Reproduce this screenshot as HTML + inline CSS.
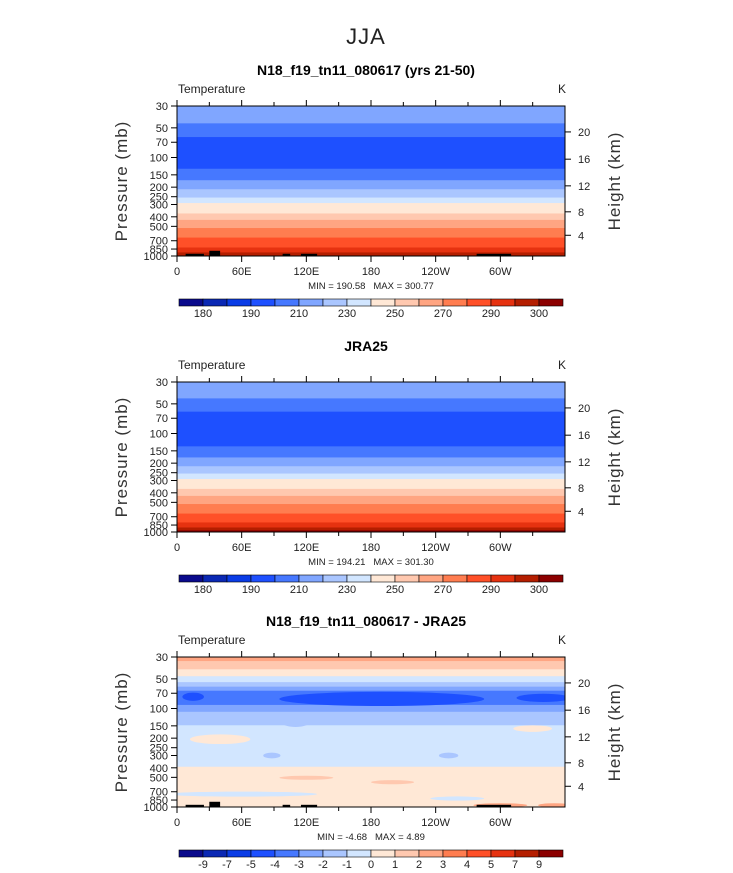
<!DOCTYPE html>
<html><head><meta charset="utf-8"><style>
html,body{margin:0;padding:0;background:#fff;}
svg{display:block;font-family:"Liberation Sans",sans-serif;}
</style></head><body>
<svg id="fig" width="733" height="873" viewBox="0 0 733 873" xmlns="http://www.w3.org/2000/svg">
<text x="366" y="44" text-anchor="middle" font-size="22" font-weight="300" fill="#222" letter-spacing="1">JJA</text>
</svg>
<script>
const palette=['#0a0a8c','#0a28b4','#0a3ce6','#1e50ff','#4678ff','#80a6ff','#aac6ff','#d2e6ff','#ffe8d6','#ffc8af','#ffa582','#ff7d50','#ff5028','#e63210','#b41e00','#8c0000'];
const tempLevels=[180,185,190,200,210,220,230,240,250,260,270,280,290,295,300];
const tempLabels=['180','','190','','210','','230','','250','','270','','290','','300'];
const diffLevels=[-9,-7,-5,-4,-3,-2,-1,0,1,2,3,4,5,7,9];
const diffLabels=['-9','-7','-5','-4','-3','-2','-1','0','1','2','3','4','5','7','9'];
const pressureTicks=[30,50,70,100,150,200,250,300,400,500,700,850,1000];
const heightKm=[4,8,12,16,20];
const heightP=[616,356,194,104,55];
const lonTicks=[0,60,120,180,240,300];
const lonLabels=['0','60E','120E','180','120W','60W'];
// panel 1 model
const edges1=[30,45,62,130,170,210,255,290,370,430,520,650,820,920,1000];
const values1=[215,205,195,205,215,225,235,245,255,265,275,285,292,297];
// panel 2 JRA25
const edges2=[30,44,60,135,175,215,255,290,365,430,520,650,800,900,960,1000];
const values2=[215,205,195,205,215,225,235,245,255,265,275,285,292,297,302];
// panel 3 difference
const edges3=[30,33,40,47,54,60,66,72,92,108,125,148,390,1000];
const values3=[2.5,1.5,0.5,-0.5,-1.5,-2.5,-3.5,-3.5,-2.5,-1.5,-1.5,-0.5,0.5];
// blobs: lon, p, dlon, pfactor, value
const blobs3=[[190,80,95,1.18,-4.5],[15,76,10,1.1,-4.5],[340,78,25,1.1,-4.5],[110,140,12,1.1,-1.5],[40,205,28,1.12,0.5],[330,160,18,1.08,0.5],[88,300,8,1.07,-1.5],[252,300,9,1.07,-1.5],[60,740,70,1.06,-0.5],[260,820,25,1.05,-0.5],[200,560,20,1.05,1.5],[120,505,25,1.03,1.5],[300,960,25,1.04,2.5],[350,960,15,1.04,2.5]];
const topo=[[8,25,950],[30,40,885],[98,105,950],[115,130,950],[278,310,950]];
const panels=[
 {y0:106,title:'N18_f19_tn11_080617 (yrs 21-50)',edges:edges1,values:values1,levels:tempLevels,labels:tempLabels,min:'190.58',max:'300.77',topo:true,blobs:[]},
 {y0:382,title:'JRA25',edges:edges2,values:values2,levels:tempLevels,labels:tempLabels,min:'194.21',max:'301.30',topo:false,blobs:[]},
 {y0:657,title:'N18_f19_tn11_080617 - JRA25',edges:edges3,values:values3,levels:diffLevels,labels:diffLabels,min:'-4.68',max:'4.89',topo:true,blobs:blobs3}
];
const NS='http://www.w3.org/2000/svg';
const svg=document.getElementById('fig');
function mk(tag,attrs,parent,txt){const e=document.createElementNS(NS,tag);for(const k in attrs)e.setAttribute(k,attrs[k]);if(txt!==undefined)e.textContent=txt;(parent||svg).appendChild(e);return e;}
function colorFor(v,levels){let i=0;while(i<levels.length&&v>=levels[i])i++;return palette[i];}
const X0=177,X1=565,H=150;
panels.forEach((P,pi)=>{
 const g=mk('g',{});
 
 
 const xs=l=>X0+l/360*(X1-X0);
 const ys=p=>P.y0+Math.log(p/30)/Math.log(1000/30)*H;
 const t=mk('text',{x:366,y:P.y0-31,'text-anchor':'middle','font-size':14,'font-weight':'bold',fill:'#000'},g,P.title);
 
 
 const vt=mk('text',{x:178,y:P.y0-13,'font-size':12,fill:'#222'},g,'Temperature');
 
 
 const kt=mk('text',{x:558,y:P.y0-13,'font-size':12,fill:'#222'},g,'K');
 
 
 const cid='clip'+pi;
 const cp=mk('clipPath',{id:cid},g);mk('rect',{x:X0,y:P.y0,width:X1-X0,height:H},cp);
 const field=mk('g',{'clip-path':'url(#'+cid+')'},g);
 
 
 P.values.forEach((v,i)=>{
  const r=mk('rect',{x:X0,y:ys(P.edges[i]),width:X1-X0,height:ys(P.edges[i+1])-ys(P.edges[i])+0.5,fill:colorFor(v,P.levels)},field);
  
  
 });
 P.blobs.forEach(b=>{
  const cy=ys(b[1]);
  const e=mk('ellipse',{cx:xs(b[0]),cy:cy,rx:b[2]/360*(X1-X0),ry:Math.max(2,ys(b[1]*b[3])-cy),fill:colorFor(b[4],P.levels)},field);
  
  
 });
 if(P.topo)topo.forEach(tp=>{
  const r=mk('rect',{x:xs(tp[0]),y:ys(tp[2]),width:xs(tp[1])-xs(tp[0]),height:P.y0+H-ys(tp[2]),fill:'#000'},field);
  
  
 });
 const fr=mk('rect',{x:X0,y:P.y0,width:X1-X0,height:H,fill:'none',stroke:'#000','stroke-width':1},g);
 
 
 pressureTicks.forEach(p=>{
  const y=ys(p);
  mk('line',{x1:X0-6,x2:X0,y1:y,y2:y,stroke:'#000'},g);
  const tl=mk('text',{x:X0-9,y:y+4,'text-anchor':'end','font-size':11,fill:'#222'},g,String(p));
  
  
 });
 heightP.forEach((p,i)=>{
  const y=ys(p);
  mk('line',{x1:X1,x2:X1+6,y1:y,y2:y,stroke:'#000'},g);
  const tl=mk('text',{x:X1+13,y:y+4,'font-size':11,fill:'#222'},g,String(heightKm[i]));
  
  
 });
 for(let l=0;l<360;l+=30){
  const x=xs(l),len=l%60===0?6:4;
  mk('line',{x1:x,x2:x,y1:P.y0,y2:P.y0-len,stroke:'#000'},g);
  mk('line',{x1:x,x2:x,y1:P.y0+H,y2:P.y0+H+len,stroke:'#000'},g);
 }
 lonTicks.forEach((l,i)=>{
  const tl=mk('text',{x:xs(l),y:P.y0+H+19,'text-anchor':'middle','font-size':11,fill:'#222'},g,lonLabels[i]);
  
  
 });
 const mm=mk('text',{x:371,y:P.y0+H+33,'text-anchor':'middle','font-size':9.5,fill:'#222'},g,'MIN = '+P.min+'\u00a0\u00a0\u00a0MAX = '+P.max);
 
 
 const yl=mk('text',{x:0,y:0,transform:'translate(127,'+(P.y0+75)+') rotate(-90)','text-anchor':'middle','font-size':17,fill:'#333','letter-spacing':'1'},g,'Pressure (mb)');
 
 
 const hl=mk('text',{x:0,y:0,transform:'translate(620,'+(P.y0+75)+') rotate(-90)','text-anchor':'middle','font-size':17,fill:'#333','letter-spacing':'1'},g,'Height (km)');
 
 
 const cb=mk('g',{},g);
 
 
 const cx0=179,cx1=563,cy=P.y0+193,bw=(cx1-cx0)/16;
 palette.forEach((c,i)=>{mk('rect',{x:cx0+i*bw,y:cy,width:bw,height:7,fill:c,stroke:'#000','stroke-width':0.6},cb);});
 P.labels.forEach((s,i)=>{
  if(!s)return;
  const tl=mk('text',{x:cx0+(i+1)*bw,y:cy+18,'text-anchor':'middle','font-size':11,fill:'#222'},cb,s);
  
  
 });
});
</script>
</body></html>
